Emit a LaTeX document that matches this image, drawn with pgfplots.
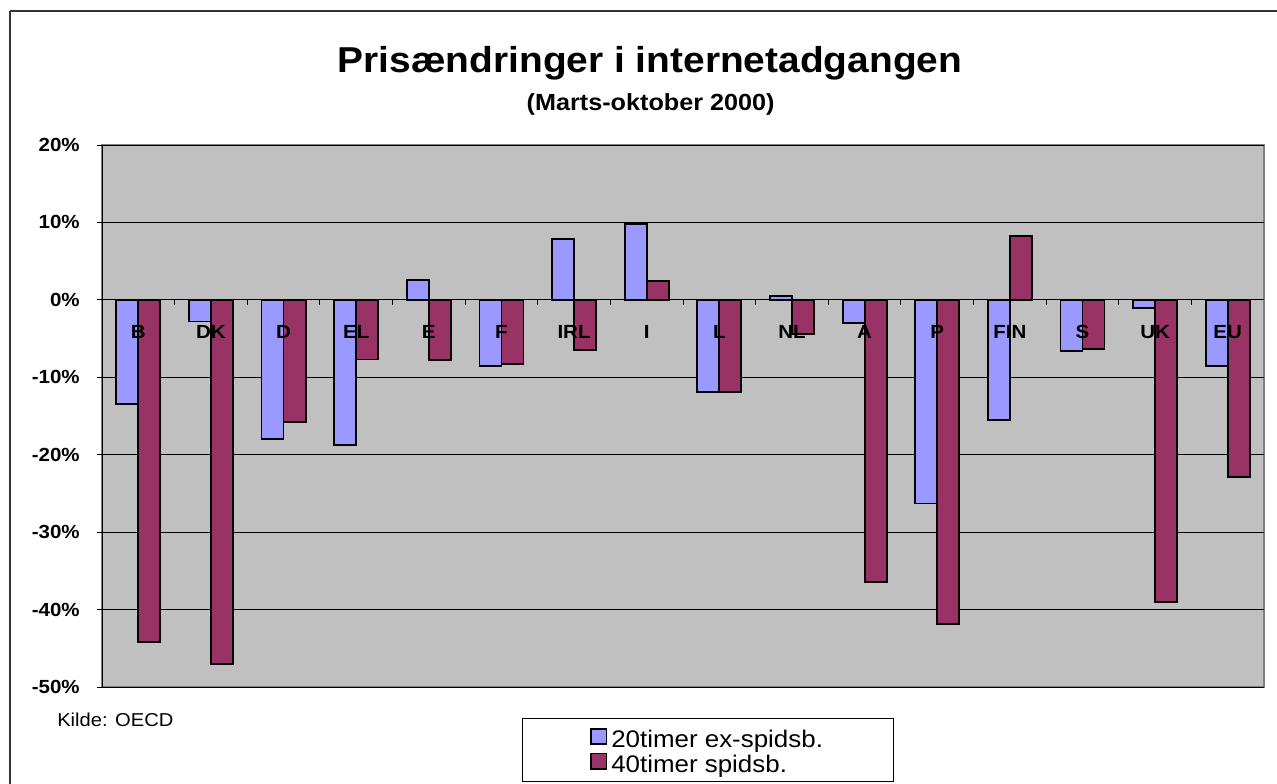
\documentclass[border=0pt]{standalone}
\usepackage{pgfplots}
\pgfplotsset{compat=1.18}
\usepackage{fontspec}
\setmainfont{Liberation Sans}[FakeStretch=1.08]
\definecolor{plotbg}{HTML}{C0C0C0}
\definecolor{blueb}{HTML}{9999FF}
\definecolor{redb}{HTML}{993366}
\pgfplotsset{
  layers/mylayers/.define layer set={
    axis background,axis grid,main,axis ticks,axis lines,axis tick labels,axis descriptions,axis foreground
  }{
    grid style={/pgfplots/on layer=axis grid},
    tick style={/pgfplots/on layer=axis ticks},
    axis line style={/pgfplots/on layer=axis lines},
    label style={/pgfplots/on layer=axis descriptions},
    legend style={/pgfplots/on layer=axis descriptions},
    title style={/pgfplots/on layer=axis descriptions},
    colorbar style={/pgfplots/on layer=axis descriptions},
    ticklabel style={/pgfplots/on layer=axis tick labels},
    axis background@ style={/pgfplots/on layer=axis background},
    3d box foreground style={/pgfplots/on layer=axis foreground},
  },
}
\pgfplotstableread{
idx a b
0 -13.4 -44.2
1 -2.8 -47.0
2 -18.0 -15.8
3 -18.8 -7.7
4 2.6 -7.8
5 -8.5 -8.3
6 7.9 -6.5
7 9.8 2.4
8 -11.9 -11.9
9 0.5 -4.4
10 -3.0 -36.4
11 -26.3 -41.9
12 -15.5 8.3
13 -6.6 -6.4
14 -1.0 -39.0
15 -8.5 -22.9
}\datatable
\begin{document}
\begin{tikzpicture}
\begin{axis}[
  set layers=mylayers,
  at={(76.5pt,-108.75pt)}, anchor=north west,
  scale only axis, width=871.5pt, height=406.5pt,
  xmin=-0.5, xmax=15.5, ymin=-50, ymax=20,
  enlargelimits=false,
  axis x line*=middle, axis y line*=left,
  x axis line style={-, black, line width=0.75pt},
  y axis line style={-, black, line width=0.75pt},
  axis background/.style={fill=plotbg, draw=gray, line width=1.5pt},
  ybar=0pt, bar width=16.5pt,
  xtick={0,...,15},
  xticklabels={B,DK,D,EL,E,F,IRL,I,L,NL,A,P,FIN,S,UK,EU},
  minor x tick num=1,
  major x tick style={draw=none},
  minor x tick style={black, line width=0.6pt},
  tick align=outside,
  major tick length=3.75pt, minor tick length=3.75pt,
  ytick={-50,-40,-30,-20,-10,0,10,20},
  yticklabels={-50\%,-40\%,-30\%,-20\%,-10\%,0\%,10\%,20\%},
  ymajorgrids,
  major grid style={black, line width=0.6pt},
  major y tick style={black, line width=0.6pt},
  x tick label style={font=\fontsize{14.25pt}{16pt}\selectfont\bfseries, anchor=base, inner sep=0pt, yshift=-25.5pt},
  y tick label style={font=\fontsize{14.25pt}{16pt}\selectfont\bfseries, anchor=east, inner sep=0pt, xshift=-12.75pt},
  legend style={at={(0.3614,-0.0572)}, anchor=north west, draw=black, line width=0.75pt,
    font=\fontsize{18pt}{19pt}\selectfont, inner xsep=51pt, inner ysep=3pt, row sep=-4pt,
    nodes={text height=17pt, text depth=1.5pt},
    /tikz/every odd column/.append style={column sep=1pt}},
  legend cell align=left,
  legend image code/.code={\draw[#1, line width=1.1pt] (0pt,-5pt) rectangle (11.5pt,6.5pt);},
]
\addplot[draw=black, line width=1.4pt, fill=blueb] table[x=idx, y=a] {\datatable};
\addplot[draw=black, line width=1.4pt, fill=redb] table[x=idx, y=b] {\datatable};
\legend{20timer ex-spidsb.,40timer spidsb.}
\end{axis}
\draw[black!80, line width=1.5pt] (7.5pt,-8.25pt) -- (960pt,-8.25pt);
\draw[black!80, line width=1.5pt] (7.5pt,-8.25pt) -- (7.5pt,-590pt);
\node[anchor=base, font=\fontsize{27pt}{30pt}\selectfont\bfseries] at (487.5pt,-54.5pt) {Prisændringer i internetadgangen};
\node[anchor=base, font=\fontsize{17.5pt}{20pt}\selectfont\bfseries] at (488pt,-83pt) {(Marts-oktober 2000)};
\node[anchor=base west, font=\fontsize{14pt}{16pt}\selectfont, inner sep=0pt] at (42.75pt,-544.5pt) {Kilde: OECD};
\pgfresetboundingbox
\path[use as bounding box] (0,0) rectangle (957.75pt,-587.25pt);
\end{tikzpicture}
\end{document}
